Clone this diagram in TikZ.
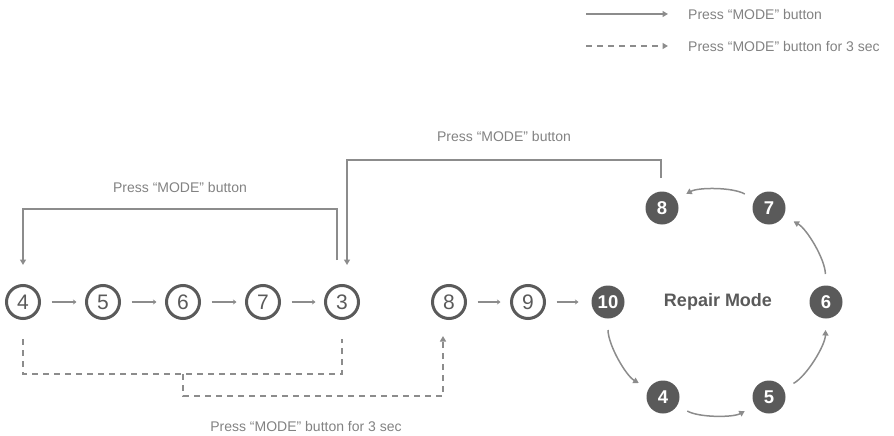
\documentclass[tikz,border=0pt]{standalone}
\usepackage{fontspec}
\setmainfont{Liberation Sans}
\usetikzlibrary{arrows.meta,calc}
\definecolor{cdark}{HTML}{5A5A5A}
\definecolor{cline}{HTML}{8C8C8C}
\definecolor{ctext}{HTML}{828282}
\begin{document}
\begin{tikzpicture}[x=1pt,y=-1pt,
  ocirc/.style={circle,draw=cdark,line width=3pt,minimum size=33pt,inner sep=0pt,outer sep=0pt,text=cdark,font=\fontsize{21}{21}\selectfont},
  fcirc/.style={circle,fill=cdark,minimum size=33pt,inner sep=0pt,outer sep=0pt,text=white,font=\fontsize{18.5}{18.5}\selectfont\bfseries},
  lbl/.style={text=ctext,font=\fontsize{14}{16}\selectfont,inner sep=0pt},
  conn/.style={draw=cline,line width=1.5pt},
  tip/.style={-{Triangle[length=5.5pt,width=6pt]}},
  smallarr/.style={draw=cline,line width=1.1pt,-{Stealth[length=3.5pt,width=5pt]}},
  dsh/.style={conn,dash pattern=on 6pt off 5pt}]
\useasboundingbox (0,0) rectangle (894,436);

% legend
\coordinate (lg1s) at (586,14);
\coordinate (lg1e) at (668,14);
\coordinate (lg2s) at (586,46);
\coordinate (lg2e) at (668,46);
\draw[conn,tip] (lg1s) -- (lg1e);
\draw[dsh,tip] (lg2s) -- (lg2e);
\node[lbl,anchor=west] (lgt1) at (688,14) {Press “MODE” button};
\node[lbl,anchor=west] (lgt2) at (688,46) {Press “MODE” button for 3 sec};

% left row
\node[ocirc] (a4) at (23,302) {4};
\node[ocirc] (a5) at (103,302) {5};
\node[ocirc] (a6) at (183,302) {6};
\node[ocirc] (a7) at (263,302) {7};
\node[ocirc] (a3) at (342,302) {3};
\foreach \u/\v in {a4/a5,a5/a6,a6/a7,a7/a3}
  \draw[smallarr,shorten <=12pt,shorten >=10pt] (\u) -- (\v);

% middle row
\node[ocirc] (b8) at (449,302) {8};
\node[ocirc] (b9) at (528,302) {9};
\node[fcirc] (b10) at (608,302) {10};
\draw[smallarr,shorten <=12pt,shorten >=11pt] (b8) -- (b9);
\draw[smallarr,shorten <=12pt,shorten >=13pt] (b9) -- (b10);

% repair cycle
\coordinate (rc) at (716,302);
\node[fcirc] (r4) at (663,397) {4};
\node[fcirc] (r5) at (769,397) {5};
\node[fcirc] (r6) at (826,302) {6};
\node[fcirc] (r7) at (769,208) {7};
\node[fcirc] (r8) at (662,208) {8};
\node[text=cdark,font=\fontsize{18}{18}\selectfont\bfseries] (rm) at (718,302) {Repair Mode};
\foreach \u/\v in {b10/r4,r4/r5,r5/r6,r6/r7,r7/r8}
  \draw[conn,tip,shorten <=28pt,shorten >=28pt] (\u.center) to[bend right=30] (\v.center);

% solid brackets
\draw[conn,tip] ($(a3)+(-5,-42)$) -- ($(a3)+(-5,-93)$) -| ($(a4)+(0,-37)$);
\node[lbl] (l1) at (180,187) {Press “MODE” button};
\draw[conn,tip] ($(r8)+(-1,-30)$) -- ($(r8)+(-1,-48)$) -| ($(a3)+(5,-37)$);
\node[lbl] (l2) at (504,136) {Press “MODE” button};

% dashed brackets
\draw[dsh] ($(a4)+(0,37)$) -- ($(a4)+(0,72)$) -| ($(a3)+(0,37)$);
\draw[dsh,tip] ($(a6)+(0,72)$) -- ($(a6)+(0,94)$) -| ($(b8)+(-6,34)$);
\node[lbl] (l3) at (306,426) {Press “MODE” button for 3 sec};
\end{tikzpicture}
\end{document}
